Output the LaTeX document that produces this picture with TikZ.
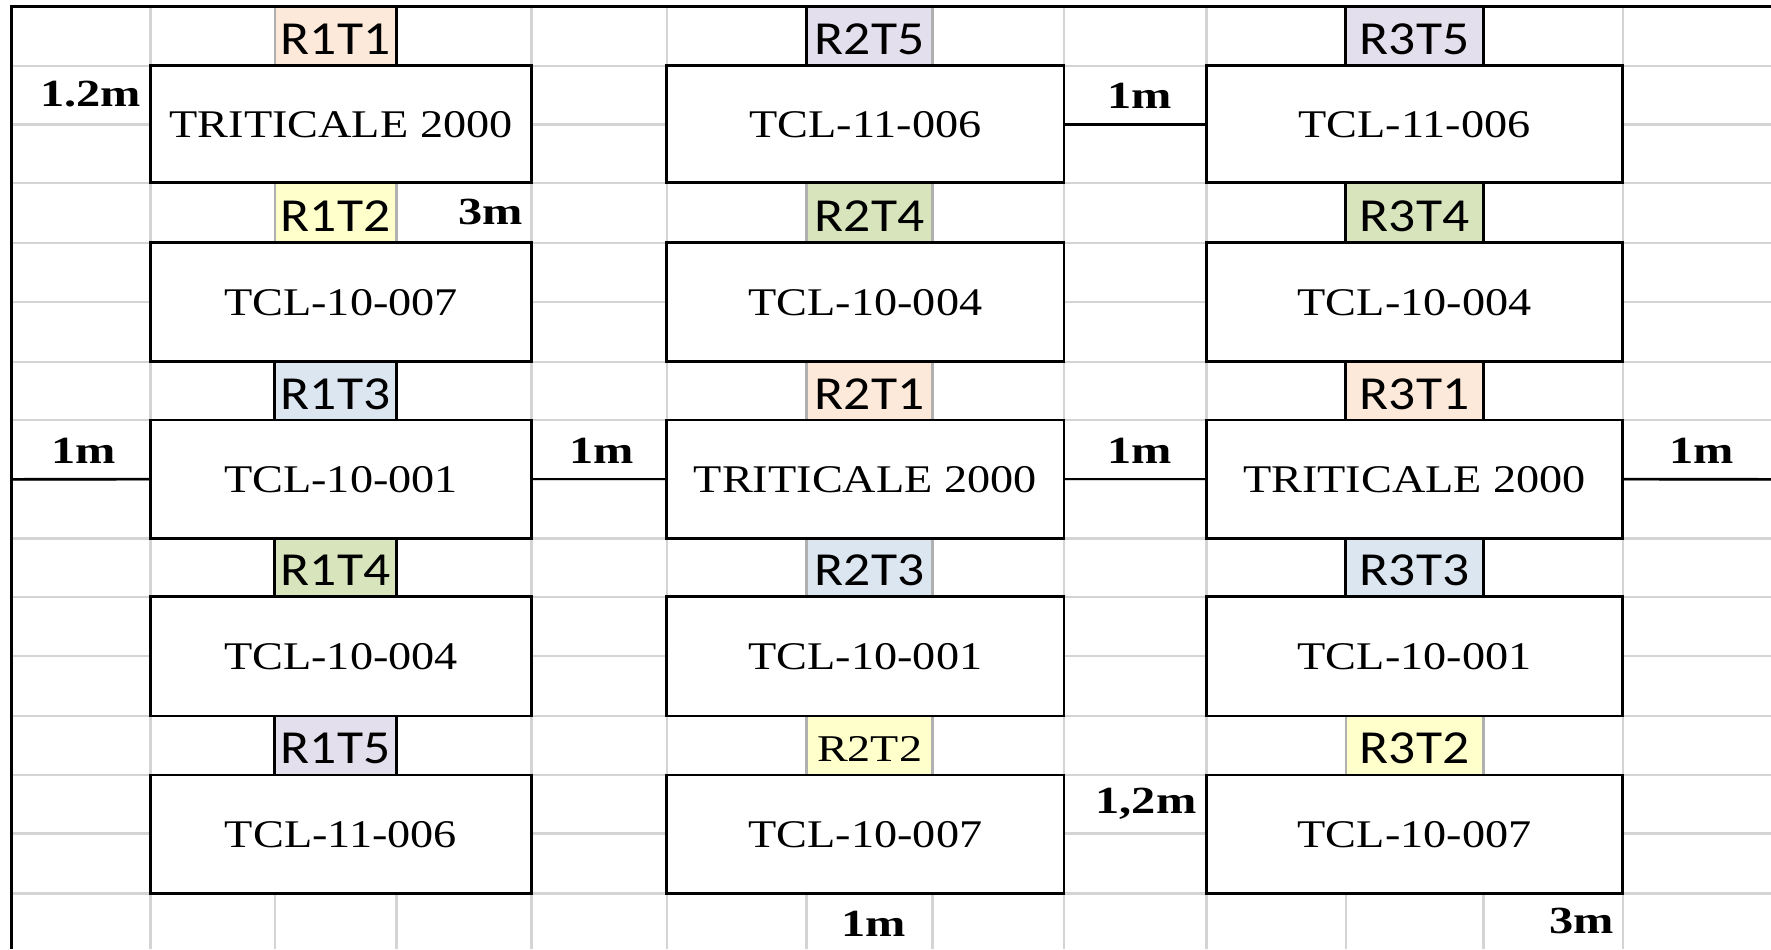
\documentclass[tikz,border=0pt]{standalone}
\usepackage{fontspec}
\setmainfont{Liberation Serif}
\newfontfamily\boxfont[FakeStretch=1.18]{Liberation Serif}
\newfontfamily\dimfont[FakeStretch=1.26]{Liberation Serif}
\newfontfamily\labfont[FakeStretch=1.13]{Carlito}
\newfontfamily\labserif[FakeStretch=1.22]{Liberation Serif}
\definecolor{gridgray}{HTML}{D4D4D4}
\definecolor{taggray}{HTML}{B0B0B0}
\definecolor{tOne}{HTML}{FCE9DA}
\definecolor{tTwo}{HTML}{FFFFCC}
\definecolor{tThree}{HTML}{DCE6F1}
\definecolor{tFour}{HTML}{D8E4BC}
\definecolor{tFive}{HTML}{E4DFEC}
\tikzset{
  grid line/.style={draw=gridgray, line width=1.2pt},
  plotbox/.style={draw=black, fill=white, line width=1.4pt, inner sep=0pt, outer sep=0pt,
    font=\boxfont\fontsize{19.6}{20}\selectfont},
  plotlabel/.style={draw=taggray, line width=1.2pt, inner sep=0pt, outer sep=0pt,
    text height=18.4pt, text depth=0pt,
    font=\labfont\fontsize{23.7}{24}\selectfont},
  dimlabel/.style={font=\dimfont\bfseries\fontsize{19.2}{20}\selectfont, inner sep=0pt, anchor=base},
  link/.style={draw=black, line width=1.3pt},
  blackedge/.style={draw=black, line width=1.4pt}
}
\newcommand\cellnode[7]{%
  \node[#6, minimum width={(#4-#2)*0.5pt}, minimum height={(#5-#3)*0.5pt}]
    (#1) at ({(#2+#4)/2},{(#3+#5)/2}) {#7};}
\begin{document}
\begin{tikzpicture}[x=0.5pt,y=-0.5pt]
\useasboundingbox (0,0) rectangle (1771,949);
\fill[white] (0,0) rectangle (1771,949);
% spreadsheet grid
\foreach \y in {65.7,124.3,182.7,242.7,301.7,361.7,420,479.3,538.3,596.7,656,716,775,833.3,893.3}
  \draw[grid line] (11.4,\y) -- (1771,\y);
\foreach \x in {150.5,274.7,396.5,531.5,666.7,806.6,932.6,1064,1206.3,1345.7,1483.5,1622.8}
  \draw[grid line] (\x,6.7) -- (\x,949);
% plot labels
\cellnode{l11}{274.7}{6.7}{396.5}{65.7}{plotlabel,fill=tOne}{R1T1}
\cellnode{l12}{274.7}{182.7}{396.5}{242.7}{plotlabel,fill=tTwo}{R1T2}
\cellnode{l13}{274.7}{361.7}{396.5}{420}{plotlabel,fill=tThree}{R1T3}
\cellnode{l14}{274.7}{538.3}{396.5}{596.7}{plotlabel,fill=tFour}{R1T4}
\cellnode{l15}{274.7}{716}{396.5}{775}{plotlabel,fill=tFive}{R1T5}
\cellnode{l21}{806.6}{6.7}{932.6}{65.7}{plotlabel,fill=tFive}{R2T5}
\cellnode{l22}{806.6}{182.7}{932.6}{242.7}{plotlabel,fill=tFour}{R2T4}
\cellnode{l23}{806.6}{361.7}{932.6}{420}{plotlabel,fill=tOne}{R2T1}
\cellnode{l24}{806.6}{538.3}{932.6}{596.7}{plotlabel,fill=tThree}{R2T3}
\cellnode{l25}{806.6}{716}{932.6}{775}{plotlabel,fill=tTwo,text height=15.9pt,font=\labserif\fontsize{18.9}{19}\selectfont}{R2T2}
\cellnode{l31}{1345.7}{6.7}{1483.5}{65.7}{plotlabel,fill=tFive}{R3T5}
\cellnode{l32}{1345.7}{182.7}{1483.5}{242.7}{plotlabel,fill=tFour}{R3T4}
\cellnode{l33}{1345.7}{361.7}{1483.5}{420}{plotlabel,fill=tOne}{R3T1}
\cellnode{l34}{1345.7}{538.3}{1483.5}{596.7}{plotlabel,fill=tThree}{R3T3}
\cellnode{l35}{1345.7}{716}{1483.5}{775}{plotlabel,fill=tTwo}{R3T2}
% plots
\cellnode{b11}{150.5}{65.7}{531.5}{182.7}{plotbox}{TRITICALE 2000}
\cellnode{b12}{150.5}{242.7}{531.5}{361.7}{plotbox}{TCL-10-007}
\cellnode{b13}{150.5}{420}{531.5}{538.3}{plotbox}{TCL-10-001}
\cellnode{b14}{150.5}{596.7}{531.5}{716}{plotbox}{TCL-10-004}
\cellnode{b15}{150.5}{775}{531.5}{893.3}{plotbox}{TCL-11-006}
\cellnode{b21}{666.7}{65.7}{1064}{182.7}{plotbox}{TCL-11-006}
\cellnode{b22}{666.7}{242.7}{1064}{361.7}{plotbox}{TCL-10-004}
\cellnode{b23}{666.7}{420}{1064}{538.3}{plotbox}{TRITICALE 2000}
\cellnode{b24}{666.7}{596.7}{1064}{716}{plotbox}{TCL-10-001}
\cellnode{b25}{666.7}{775}{1064}{893.3}{plotbox}{TCL-10-007}
\cellnode{b31}{1206.3}{65.7}{1622.8}{182.7}{plotbox}{TCL-11-006}
\cellnode{b32}{1206.3}{242.7}{1622.8}{361.7}{plotbox}{TCL-10-004}
\cellnode{b33}{1206.3}{420}{1622.8}{538.3}{plotbox}{TRITICALE 2000}
\cellnode{b34}{1206.3}{596.7}{1622.8}{716}{plotbox}{TCL-10-001}
\cellnode{b35}{1206.3}{775}{1622.8}{893.3}{plotbox}{TCL-10-007}
% black sides of some label cells
\draw[blackedge] (l11.north east) -- (l11.south east);
\draw[blackedge] (l21.north west) -- (l21.south west);
\foreach \n in {l13,l14,l15,l31,l32,l33,l34}{
  \draw[blackedge] (\n.north west) -- (\n.south west);
  \draw[blackedge] (\n.north east) -- (\n.south east);
}
% outer border
\draw[blackedge] (11.4,949) -- (11.4,6.7) -- (1771,6.7);
% connectors
\coordinate (westend) at (11.4,479.3);
\coordinate (eastend) at (1771,479.3);
\draw[link] (westend) -- (b13.west);
\draw[link] (b13.east) -- (b23.west);
\draw[link] (b23.east) -- (b33.west);
\draw[link] (b33.east) -- (eastend);
\draw[link] (b21.east) -- (b31.west);
% dimension labels
\node[dimlabel] (d1) at (90.9,106) {1.2m};
\node[dimlabel] (d2) at (490.4,224) {3m};
\node[dimlabel] (d3) at (1139.6,108.3) {1m};
\node[dimlabel] (d4) at (83.3,463.3) {1m};
\node[dimlabel] (d5) at (601.7,463.3) {1m};
\node[dimlabel] (d6) at (1139.6,463.3) {1m};
\node[dimlabel] (d7) at (1702,463.3) {1m};
\node[dimlabel] (d8) at (1146,813.3) {1,2m};
\node[dimlabel] (d9) at (873.6,936.7) {1m};
\node[dimlabel] (d10) at (1581.5,933) {3m};
\end{tikzpicture}
\end{document}
